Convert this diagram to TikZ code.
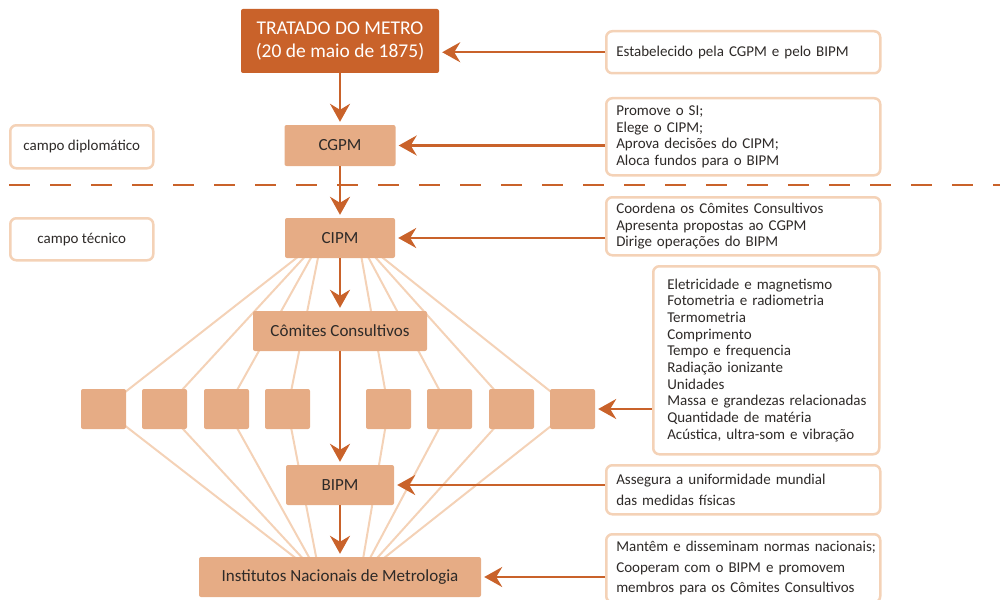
\documentclass[tikz,border=0pt]{standalone}
\usepackage{fontspec}
\setmainfont{Carlito}
\usetikzlibrary{arrows.meta,backgrounds}
\definecolor{rustOrange}{HTML}{C9622A}
\definecolor{peachFill}{HTML}{E6AC85}
\definecolor{peachLine}{HTML}{F4D2B7}
\definecolor{darkText}{HTML}{2E2A28}
\newcommand{\noteFont}{\fontsize{15}{16.7}\selectfont}
\newcommand{\wideFont}{\fontsize{15}{20.5}\selectfont}
\newcommand{\boxFont}{\fontsize{17}{19}\selectfont}
\newcommand{\titleFont}{\fontsize{19.5}{23}\selectfont}

\begin{document}
\begin{tikzpicture}[x=1pt,y=-1pt,
   orgbox/.style={fill=peachFill,text=darkText,rounded corners=2pt,inner sep=0pt,minimum height=40pt,font=\boxFont},
   notebox/.style={draw=peachLine,line width=2.5pt,fill=white,rounded corners=6pt,anchor=north west,
                   inner xsep=10pt,inner ysep=0pt,align=left,text=darkText,font=\noteFont},
   flow/.style={draw=rustOrange,line width=2.5pt,shorten >=3pt,-{Stealth[length=18pt,width=20pt,inset=6pt]}},
   fan/.style={draw=peachLine,line width=2pt}]
   \useasboundingbox (0,0) rectangle (1000,599);

   \node[orgbox,fill=rustOrange,text=white,font=\titleFont,align=center,minimum width=198pt,minimum height=64pt]
        (tratado) at (340,41) {TRATADO DO METRO\\(20 de maio de 1875)};
   \node[orgbox,minimum width=111pt,minimum height=41pt] (cgpm) at (340,145.5) {CGPM};
   \node[orgbox,minimum width=110pt] (cipm) at (340,238) {CIPM};
   \node[orgbox,minimum width=174pt] (comites) at (340,331) {Cômites Consultivos};
   \node[orgbox,minimum width=108pt] (bipm) at (340,485) {BIPM};
   \node[orgbox,minimum width=282pt] (inm) at (340,577) {Institutos Nacionais de Metrologia};

   \foreach \name/\xpos in {q1/103.5,q2/164.5,q3/226.5,q4/287.5,q5/388.5,q6/449.5,q7/511.5,q8/572.5}
      \node[orgbox,minimum width=45pt] (\name) at (\xpos,409) {};

   \node[notebox,align=center,minimum width=143pt,minimum height=43pt] (diplo) at (9,124) {campo diplomático};
   \node[notebox,align=center,minimum width=143pt,minimum height=42pt] (tecnico) at (9,217) {campo técnico};

   \node[notebox,text width=254pt,minimum height=42pt] (estab) at (605,30) {Estabelecido pela CGPM e pelo BIPM};
   \node[notebox,text width=254pt,minimum height=77pt] (promove) at (605,97)
        {Promove o SI;\\Elege o CIPM;\\Aprova decisões do CIPM;\\Aloca fundos para o BIPM};
   \node[notebox,text width=254pt,minimum height=58pt] (coordena) at (605,196)
        {Coordena os Cômites Consultivos\\Apresenta propostas ao CGPM\\Dirige operações do BIPM};
   \node[notebox,inner xsep=14pt,text width=198pt,minimum height=188pt] (grandezas) at (652,265)
        {Eletricidade e magnetismo\\Fotometria e radiometria\\Termometria\\Comprimento\\Tempo e frequencia\\
         Radiação ionizante\\Unidades\\\mbox{Massa e grandezas relacionadas}\\Quantidade de matéria\\
         \mbox{Acústica, ultra-som e vibração}};
   \node[notebox,font=\wideFont,text width=254pt,minimum height=49pt] (assegura) at (605,464)
        {Assegura a uniformidade mundial\\das medidas físicas};
   \node[notebox,font=\wideFont,text width=254pt,minimum height=68pt] (mantem) at (605,533)
        {\mbox{Mantêm e disseminam normas nacionais;}\\Cooperam com o BIPM e promovem\\
         \mbox{membros para os Cômites Consultivos}};

   \draw[rustOrange,line width=2pt,dash pattern=on 21pt off 20pt] (9,185) -- (1000,185);

   \coordinate (fanTL) at (322,238);
   \coordinate (fanTR) at (358,238);
   \coordinate (fanBL) at (320,577);
   \coordinate (fanBR) at (360,577);
   \begin{scope}[on background layer]
      \foreach \i in {1,...,4} \draw[fan] (fanTL) -- (q\i.center) -- (fanBL);
      \foreach \i in {5,...,8} \draw[fan] (fanTR) -- (q\i.center) -- (fanBR);
   \end{scope}

   \draw[flow] (tratado) -- (cgpm);
   \draw[flow] (cgpm) -- (cipm);
   \draw[flow] (cipm) -- (comites);
   \draw[flow] (comites) -- (bipm);
   \draw[flow] (bipm) -- (inm);

   \draw[flow] (estab.west) -- (estab.west -| tratado.east);
   \draw[flow] (promove.west |- cgpm.east) -- (cgpm.east);
   \draw[flow] (coordena.west |- cipm.east) -- (cipm.east);
   \draw[flow] (grandezas.west |- q8.east) -- (q8.east);
   \draw[flow] (assegura.west |- bipm.east) -- (bipm.east);
   \draw[flow] (mantem.west |- inm.east) -- (inm.east);
\end{tikzpicture}
\end{document}
